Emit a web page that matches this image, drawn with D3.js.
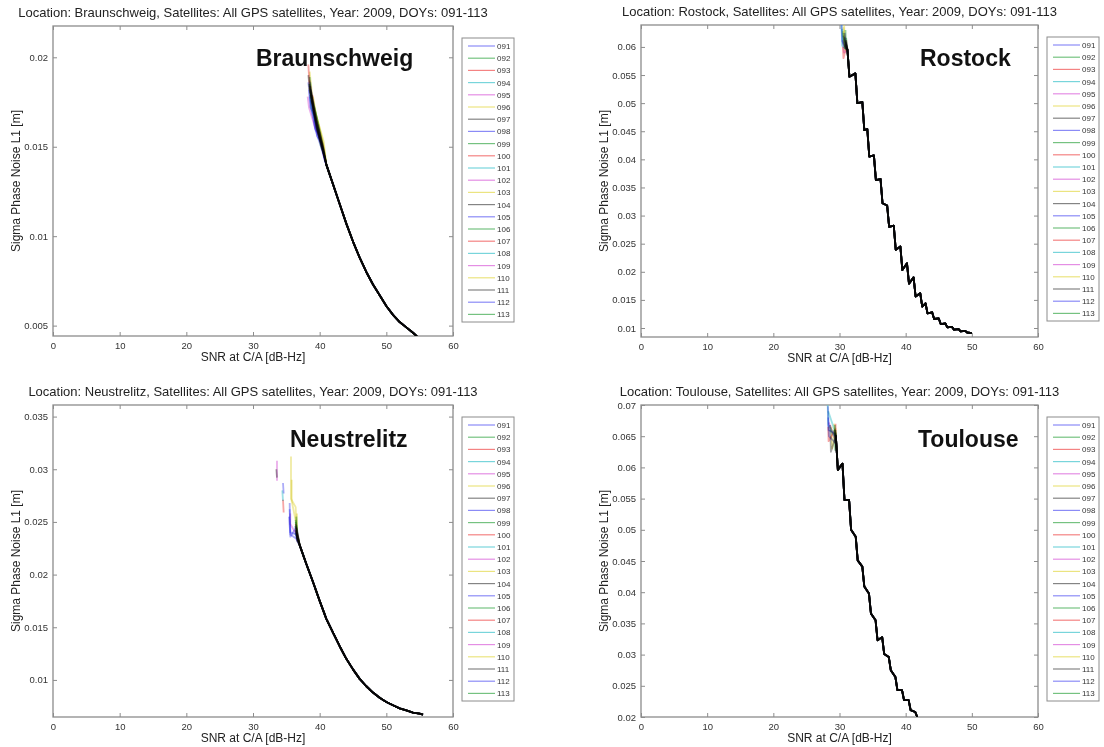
<!DOCTYPE html>
<html>
<head>
<meta charset="utf-8">
<script src="https://cdn.jsdelivr.net/npm/d3@7"></script>
<style>
  body { margin: 0; background: #fff; }
  svg { display: block; font-family: "Liberation Sans", Arial, sans-serif; }
</style>
</head>
<body>
<svg id="chart" width="1104" height="747"></svg>
<script>
// ---- Data ---------------------------------------------------------------
const doys = ["091","092","093","094","095","096","097","098","099","100","101","102",
              "103","104","105","106","107","108","109","110","111","112","113"];
// colour cycle b, g, r, c, m, y, k
const lineColors = ["#5a5af2","#3aa84a","#f04e4e","#3ec3cc","#d85ed8","#e2d84a","#505050"];
const xTicks = [0, 10, 20, 30, 40, 50, 60];

// Braunschweig
const yTicksBraunschweig = [0.005, 0.01, 0.015, 0.02];
const bodySnrBraunschweig = [41, 42, 43, 44, 45, 46, 47, 48, 49, 50, 51, 52, 53, 54, 54.6];
const bodySigmaBraunschweig = [0.0140, 0.0129, 0.0118, 0.0107, 0.0097, 0.0088, 0.0080, 0.0073,
                               0.0067, 0.0061, 0.0056, 0.0052, 0.0049, 0.0046, 0.0044];
const headsBraunschweig = [
  [[38.4,0.0182],[38.6,0.0172],[39.3,0.0167],[39.6,0.0156],[40.3,0.0152],[40.7,0.0143]],
  [[38.5,0.0189],[38.8,0.0176],[39.5,0.0163],[40.2,0.0150],[40.8,0.0144]],
  [[38.3,0.0196],[38.5,0.0183],[39.4,0.0166],[40.4,0.0151]],
  [[38.6,0.0186],[38.7,0.0172],[39.7,0.0160],[40.5,0.0148]],
  [[38.2,0.0178],[38.4,0.0172],[39.2,0.0162],[40.1,0.0154]],
  [[38.5,0.0192],[39.0,0.0174],[39.9,0.0162],[40.6,0.0150]],
  [[38.3,0.0190],[38.6,0.0180],[39.6,0.0163],[40.4,0.0152]],
  [[38.8,0.0176],[39.3,0.0160],[39.8,0.0157],[40.6,0.0146]],
  [[38.4,0.0185],[38.9,0.0175],[39.8,0.0160]],
  [[38.5,0.0187],[39.1,0.0170],[40.0,0.0158]],
  [[38.7,0.0180],[39.4,0.0165],[40.2,0.0153]],
  [[38.6,0.0184],[39.2,0.0168],[40.0,0.0155]],
  [[39.0,0.0178],[39.6,0.0165],[40.5,0.0151]],
  [[38.5,0.0184],[39.5,0.0161],[40.3,0.0150]],
  [[38.3,0.0186],[38.8,0.0170],[39.4,0.0159],[40.2,0.0150]],
  [[38.6,0.0181],[39.6,0.0166],[40.7,0.0147]],
  [[38.9,0.0179],[39.7,0.0159],[40.5,0.0150]],
  [[38.5,0.0178],[39.3,0.0165],[40.4,0.0149]],
  [[38.7,0.0176],[39.8,0.0158],[40.6,0.0145]],
  [[38.4,0.0183],[39.5,0.0167],[40.6,0.0153]],
  [[38.6,0.0179],[39.6,0.0160],[40.5,0.0148]],
  [[38.7,0.0182],[39.4,0.0162],[40.4,0.0150]],
  [[38.5,0.0185],[39.7,0.0163],[40.6,0.0147]]
];

// Rostock
const yTicksRostock = [0.01, 0.015, 0.02, 0.025, 0.03, 0.035, 0.04, 0.045, 0.05, 0.055, 0.06];
const bodySnrRostock = [31.2,31.5,32.4,32.7,33.45,33.75,34.2,34.5,35.2,35.5,36.2,36.5,37.2,37.5,
                        38.2,38.5,39.2,39.5,40.2,40.5,41.2,41.5,42.2,42.5,43.0,43.3,44.0,44.3,
                        45.0,45.3,46.0,46.3,47.0,47.3,48.0,48.3,49.0,49.3,50.0];
const bodySigmaRostock = [0.0595,0.0547,0.0553,0.0500,0.0502,0.0452,0.0454,0.0405,0.0407,0.0363,
                          0.0365,0.0322,0.0318,0.0280,0.0282,0.0239,0.0245,0.0203,0.0215,0.0179,
                          0.0190,0.0156,0.0162,0.0138,0.0144,0.0126,0.0128,0.0116,0.0117,0.0107,
                          0.0108,0.0101,0.0102,0.0097,0.0098,0.0094,0.0095,0.0092,0.0091];
const headsRostock = [
  [[30.3,0.0645],[30.4,0.0610],[30.9,0.0600]],
  [[30.6,0.0625],[30.8,0.0598]],
  [[30.5,0.0600],[30.6,0.0580],[31.0,0.0598]],
  [[30.3,0.0640],[30.4,0.0602]],
  [[30.5,0.0612],[30.7,0.0590]],
  [[30.7,0.0640],[30.8,0.0595]],
  [[30.6,0.0620],[30.9,0.0597]],
  [[30.8,0.0618],[31.0,0.0600]],
  [[30.9,0.0630],[31.0,0.0604]],
  [[31.0,0.0612]],
  [[30.4,0.0632],[30.6,0.0605]],
  [[30.9,0.0608]],
  [[30.5,0.0628],[30.8,0.0602]],
  [[31.0,0.0605]],
  [[30.8,0.0625],[31.0,0.0598]],
  [[31.0,0.0616]],
  [[30.9,0.0603]],
  [[30.7,0.0615]],
  [[31.0,0.0600]],
  [[30.6,0.0635],[30.9,0.0606]],
  [[30.9,0.0610]],
  [[31.0,0.0608]],
  [[30.9,0.0612]]
];

// Neustrelitz
const yTicksNeustrelitz = [0.01, 0.015, 0.02, 0.025, 0.03, 0.035];
const bodySnrNeustrelitz = [37, 38, 39, 40, 41, 42, 43, 44, 45, 46, 47, 48, 49, 50, 51, 52, 53, 54, 55, 55.5];
const bodySigmaNeustrelitz = [0.0228, 0.0210, 0.0193, 0.0175, 0.0158, 0.0145, 0.0132, 0.0120, 0.0110, 0.0101,
                              0.0094, 0.0088, 0.0083, 0.0079, 0.0076, 0.0073, 0.0071, 0.0069, 0.0068, 0.0067];
const headsNeustrelitz = [
  [[34.5,0.0287],[34.6,0.0277],null,[35.5,0.0268],[35.6,0.0236],[36.4,0.0244],[36.6,0.0233]],
  [[36.4,0.0250],[36.6,0.0238]],
  [[34.5,0.0271],[34.6,0.0259],null,[36.5,0.0240]],
  [[36.3,0.0246],[36.6,0.0236]],
  [[33.6,0.0308],[33.6,0.0289],null,[36.5,0.0245]],
  [[35.7,0.0312],[35.7,0.0272],[36.4,0.0264],[36.6,0.0232]],
  [[33.5,0.0300],[33.6,0.0292],null,[36.4,0.0242]],
  [[35.5,0.0262],[35.6,0.0240],[36.5,0.0238]],
  [[36.5,0.0255],[36.6,0.0236]],
  [[36.4,0.0248],[36.6,0.0234]],
  [[34.4,0.0280],[34.5,0.0270],null,[36.5,0.0240]],
  [[35.6,0.0258],[35.6,0.0248],[36.5,0.0238]],
  [[35.8,0.0290],[35.8,0.0270],[36.5,0.0248],[36.6,0.0235]],
  [[36.5,0.0244]],
  [[35.4,0.0255],[35.6,0.0238],[36.5,0.0234]],
  [[36.4,0.0252],[36.6,0.0240]],
  [[36.5,0.0242]],
  [[36.3,0.0240]],
  [[36.4,0.0246]],
  [[36.6,0.0258],[36.6,0.0240]],
  [[36.5,0.0238]],
  [[36.4,0.0242],[36.6,0.0232]],
  [[36.5,0.0247]]
];

// Toulouse
const yTicksToulouse = [0.02, 0.025, 0.03, 0.035, 0.04, 0.045, 0.05, 0.055, 0.06, 0.065, 0.07];
const bodySnrToulouse = [29.45,29.75,30.45,30.75,31.45,31.75,32.45,32.75,33.45,33.75,34.45,34.75,35.45,
                         35.75,36.45,36.75,37.45,37.75,38.45,38.75,39.45,39.75,40.45,40.75,41.45,41.75];
const bodySigmaToulouse = [0.0650,0.0596,0.0606,0.0548,0.0548,0.0500,0.0489,0.0451,0.0441,0.0409,
                           0.0398,0.0366,0.0355,0.0323,0.0328,0.0301,0.0296,0.0275,0.0264,0.0243,
                           0.0243,0.0227,0.0227,0.0211,0.0208,0.0200];
const headsToulouse = [
  [[28.25,0.0698],[28.35,0.0660],[29.2,0.0655]],
  [[29.3,0.0668],[29.4,0.0640]],
  [[28.3,0.0665],[28.35,0.0642],[29.3,0.0660]],
  [[28.2,0.0705],[28.3,0.0668],[29.3,0.0652]],
  [[28.4,0.0672],[29.2,0.0648]],
  [[28.8,0.0665],[28.9,0.0630],[29.4,0.0662]],
  [[28.6,0.0668],[28.7,0.0625],[29.3,0.0645]],
  [[28.3,0.0680],[28.4,0.0650],[29.3,0.0640]],
  [[29.2,0.0660],[29.35,0.0628]],
  [[29.4,0.0670]],
  [[28.5,0.0660],[29.3,0.0650]],
  [[29.3,0.0638]],
  [[29.2,0.0670],[29.4,0.0640]],
  [[29.3,0.0655]],
  [[29.2,0.0652]],
  [[29.4,0.0660]],
  [[29.3,0.0648]],
  [[28.3,0.0690],[29.3,0.0658]],
  [[29.35,0.0645]],
  [[29.3,0.0662]],
  [[29.4,0.0650]],
  [[29.3,0.0642]],
  [[29.4,0.0656]]
];

// ---- Layout -------------------------------------------------------------
const panels = [
  { station: "Braunschweig", left: 53,  top: 26,  width: 400, height: 310,
    yDomain: [0.00442, 0.02175], yTicks: yTicksBraunschweig,
    snr: bodySnrBraunschweig, sigma: bodySigmaBraunschweig, heads: headsBraunschweig,
    labelX: 256, labelY: 66 },
  { station: "Rostock", left: 641, top: 25, width: 397, height: 312,
    yDomain: [0.0084, 0.0639], yTicks: yTicksRostock,
    snr: bodySnrRostock, sigma: bodySigmaRostock, heads: headsRostock,
    labelX: 920, labelY: 66 },
  { station: "Neustrelitz", left: 53, top: 405, width: 400, height: 312,
    yDomain: [0.00648, 0.0361], yTicks: yTicksNeustrelitz,
    snr: bodySnrNeustrelitz, sigma: bodySigmaNeustrelitz, heads: headsNeustrelitz,
    labelX: 290, labelY: 447 },
  { station: "Toulouse", left: 641, top: 405, width: 397, height: 312,
    yDomain: [0.02, 0.07], yTicks: yTicksToulouse,
    snr: bodySnrToulouse, sigma: bodySigmaToulouse, heads: headsToulouse,
    labelX: 918, labelY: 447 }
];

const svg = d3.select("#chart");
const axisColor = "#8c8c8c";
const tickFmt = d3.format("~g");

panels.forEach((p, pi) => {
  const x = d3.scaleLinear().domain([0, 60]).range([p.left, p.left + p.width]);
  const y = d3.scaleLinear().domain(p.yDomain).range([p.top + p.height, p.top]);
  const g = svg.append("g");

  // title
  g.append("text")
    .attr("x", p.left + p.width / 2).attr("y", p.top - 9)
    .attr("text-anchor", "middle").attr("font-size", 13).attr("fill", "#222")
    .text(`Location: ${p.station}, Satellites: All GPS satellites, Year: 2009, DOYs: 091-113`);

  // axes with inward ticks on all four sides
  const styleAxis = sel => {
    sel.select(".domain").remove();
    sel.selectAll(".tick line").attr("stroke", axisColor);
    sel.selectAll(".tick text").attr("fill", "#333").attr("font-size", 9.5)
      .attr("font-family", "Liberation Sans, Arial, sans-serif");
  };
  g.append("g").attr("transform", `translate(0,${p.top + p.height})`)
    .call(d3.axisBottom(x).tickValues(xTicks).tickSizeInner(-4).tickSizeOuter(0).tickPadding(6))
    .call(styleAxis);
  g.append("g").attr("transform", `translate(0,${p.top})`)
    .call(d3.axisTop(x).tickValues(xTicks).tickSizeInner(-4).tickSizeOuter(0).tickFormat(""))
    .call(styleAxis);
  g.append("g").attr("transform", `translate(${p.left},0)`)
    .call(d3.axisLeft(y).tickValues(p.yTicks).tickSizeInner(-4).tickSizeOuter(0).tickPadding(5).tickFormat(tickFmt))
    .call(styleAxis);
  g.append("g").attr("transform", `translate(${p.left + p.width},0)`)
    .call(d3.axisRight(y).tickValues(p.yTicks).tickSizeInner(-4).tickSizeOuter(0).tickFormat(""))
    .call(styleAxis);

  g.append("rect")
    .attr("x", p.left).attr("y", p.top).attr("width", p.width).attr("height", p.height)
    .attr("fill", "none").attr("stroke", axisColor).attr("stroke-width", 1.3);

  // axis labels
  g.append("text")
    .attr("x", p.left + p.width / 2).attr("y", p.top + p.height + 25)
    .attr("text-anchor", "middle").attr("font-size", 12).attr("fill", "#222")
    .text("SNR at C/A [dB-Hz]");
  g.append("text")
    .attr("transform", `translate(${p.left - 33},${p.top + p.height / 2}) rotate(-90)`)
    .attr("text-anchor", "middle").attr("font-size", 12).attr("fill", "#222")
    .text("Sigma Phase Noise L1 [m]");

  // curves, one per day of year; overlapping days darken where they coincide
  const clipId = `clip${pi}`;
  svg.append("clipPath").attr("id", clipId).append("rect")
    .attr("x", p.left).attr("y", p.top).attr("width", p.width).attr("height", p.height);
  const body = p.snr.map((s, i) => [s, p.sigma[i]]);
  const line = d3.line().defined(d => d !== null).x(d => x(d[0])).y(d => y(d[1]));
  const curves = g.append("g").attr("clip-path", `url(#${clipId})`).style("isolation", "isolate");
  doys.forEach((doy, di) => {
    curves.append("path")
      .datum(p.heads[di].concat(body))
      .attr("d", line)
      .attr("fill", "none")
      .attr("stroke", lineColors[di % lineColors.length])
      .attr("stroke-width", 1.8)
      .attr("stroke-opacity", 0.5)
      .attr("stroke-linejoin", "round")
      .style("mix-blend-mode", "multiply");
  });

  // station name
  g.append("text")
    .attr("x", p.labelX).attr("y", p.labelY)
    .attr("font-size", 23).attr("font-weight", "bold").attr("fill", "#111")
    .text(p.station);

  // legend
  const lx = p.left + p.width + 9, ly = p.top + 12, lh = 284, lw = 52;
  const leg = g.append("g");
  leg.append("rect").attr("x", lx).attr("y", ly).attr("width", lw).attr("height", lh)
    .attr("fill", "#fff").attr("stroke", "#8c8c8c").attr("stroke-width", 1);
  doys.forEach((doy, di) => {
    const yy = ly + 8 + di * 12.2;
    leg.append("line").attr("x1", lx + 6).attr("x2", lx + 33).attr("y1", yy).attr("y2", yy)
      .attr("stroke", lineColors[di % lineColors.length]).attr("stroke-width", 1.2).attr("stroke-opacity", 0.7);
    leg.append("text").attr("x", lx + 35).attr("y", yy + 3)
      .attr("font-size", 8).attr("fill", "#333").text(doy);
  });
});
</script>
</body>
</html>
